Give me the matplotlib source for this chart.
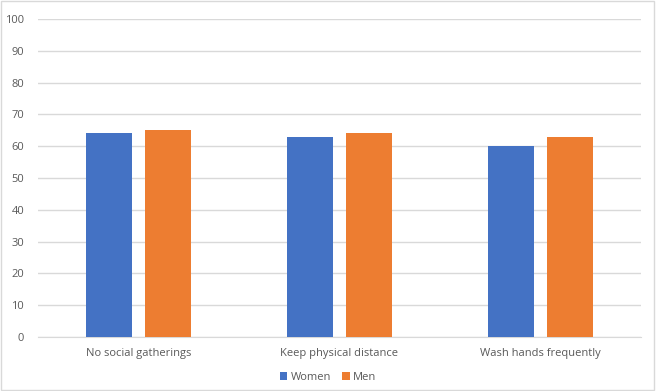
import matplotlib.pyplot as plt
import numpy as np
from matplotlib.patches import Rectangle

categories = ['No social gatherings', 'Keep physical distance', 'Wash hands frequently']
women = [64, 63, 60]
men = [65, 64, 63]
yticks = list(range(0, 101, 10))

plt.rcParams['font.family'] = ['Open Sans', 'DejaVu Sans']

fig = plt.figure(figsize=(6.56, 3.91), dpi=100)
ax = fig.add_axes([38 / 656, (391 - 337) / 391, (641 - 38) / 656, (337 - 19) / 391])

x = np.arange(len(categories))
w = 0.23
off = 0.145
ax.bar(x - off, women, w, color='#4472C4', label='Women', zorder=3)
ax.bar(x + off, men, w, color='#ED7D31', label='Men', zorder=3)

ax.set_xlim(-0.5, 2.5)
ax.set_ylim(0, 100)
ax.set_yticks(yticks)
ax.set_xticks(x)
ax.set_xticklabels(categories)
ax.grid(axis='y', color='#D9D9D9', linewidth=1, zorder=0)
for s in ['top', 'right', 'left']:
    ax.spines[s].set_visible(False)
ax.spines['bottom'].set_color('#D9D9D9')
ax.tick_params(axis='both', length=0, colors='#595959', labelsize=8)
ax.tick_params(axis='x', pad=8)
ax.tick_params(axis='y', pad=10)

leg = fig.legend(loc='center', bbox_to_anchor=(0.5, 1 - 377 / 391), ncol=2, frameon=False,
                 fontsize=8, handlelength=0.7, handleheight=0.7, handletextpad=0.3,
                 columnspacing=1.0)
for t in leg.get_texts():
    t.set_color('#595959')

fig.patches.append(Rectangle((0.002, 0.003), 0.995, 0.994, transform=fig.transFigure,
                             fill=False, edgecolor='#D9D9D9', linewidth=1))

fig.savefig('out.png', dpi=100)
